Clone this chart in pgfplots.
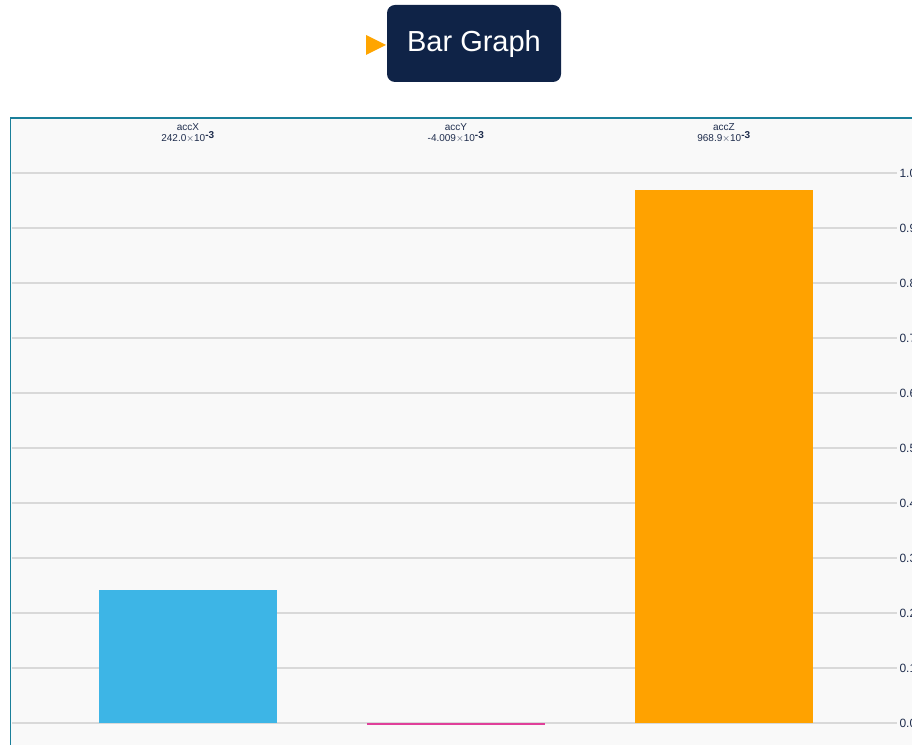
\documentclass[border=0pt]{standalone}
\usepackage{pgfplots}
\pgfplotsset{compat=1.18}
\usepackage{fontspec}
\setmainfont{Liberation Sans}
\definecolor{navy}{HTML}{0F2347}
\definecolor{tri}{HTML}{FFA500}
\definecolor{frame}{HTML}{1A7F9A}
\definecolor{panel}{HTML}{F9F9F9}
\definecolor{gridc}{HTML}{D9D9D9}
\definecolor{labc}{HTML}{1F2D4D}
\definecolor{cX}{HTML}{3DB5E6}
\definecolor{cY}{HTML}{E0409A}
\definecolor{cZ}{HTML}{FFA200}
\begin{document}
\begin{tikzpicture}[x=1pt,y=1pt]
\path[use as bounding box] (0,0) rectangle (912,744);
\begin{scope}
\clip (0,0) rectangle (912,744);
% panel
\fill[panel] (10.5,-20) rectangle (940,626);
\draw[frame,line width=1.8pt] (10.5,-20) -- (10.5,626) -- (940,626);
% title
\fill[navy,rounded corners=8pt] (387,662) rectangle (561,739);
\node[text=white,font=\fontsize{29}{33}\selectfont] at (474,700) {Bar Graph};
\fill[tri] (366,709) -- (386,699) -- (366,689) -- cycle;
\begin{axis}[
  at={(12pt,-1pt)}, anchor=south west,
  scale only axis, width=885pt, height=627pt,
  xmin=-0.6567, xmax=2.6455, ymin=-0.04, ymax=1.1,
  axis line style={draw=none},
  ybar, bar width=0.664,
  ytick={0,0.1,...,1.0},
  ymajorgrids, grid style={gridc,line width=1.4pt},
  yticklabel pos=right,
  yticklabel style={font=\fontsize{12}{14}\selectfont,text=labc,anchor=west,xshift=-1pt,
    /pgf/number format/.cd,fixed,fixed zerofill,precision=1},
  /pgf/number format/assume math mode=true,
  xtick={0,1,2},
  xticklabels={{accX\\242.0$\times$10$^{\textbf{-3}}$},{accY\\-4.009$\times$10$^{\textbf{-3}}$},{accZ\\968.9$\times$10$^{\textbf{-3}}$}},
  xticklabel pos=upper,
  xticklabel style={font=\fontsize{10}{11.5}\selectfont,text=labc,align=center,anchor=north,yshift=-2pt},
  major tick length=0pt,
  tick style={draw=none},
  clip=false,
]
\addplot[fill=cX,draw=none,bar shift=0pt] coordinates {(0,0.2420)};
\addplot[fill=cY,draw=none,bar shift=0pt] coordinates {(1,-0.004009)};
\addplot[fill=cZ,draw=none,bar shift=0pt] coordinates {(2,0.9689)};
\end{axis}
\end{scope}
\end{tikzpicture}
\end{document}
